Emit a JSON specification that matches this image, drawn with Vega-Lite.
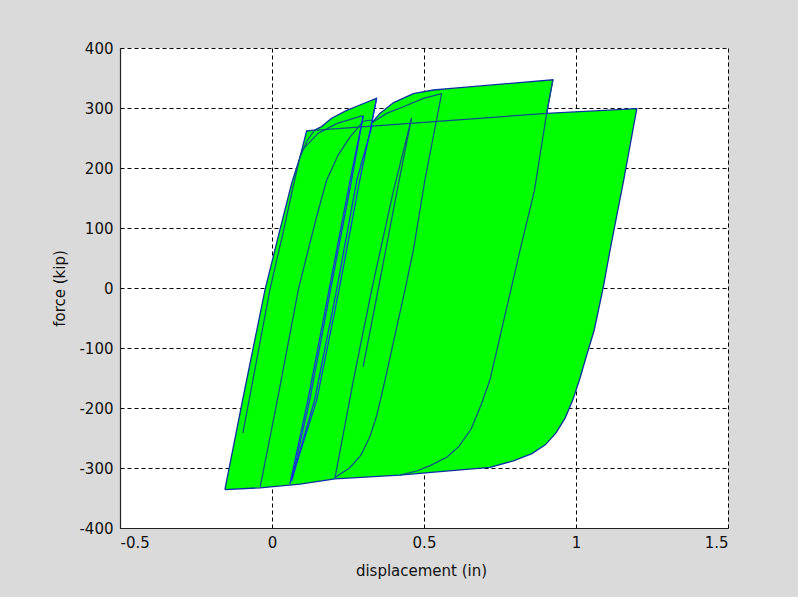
{
  "$schema": "https://vega.github.io/schema/vega-lite/v6.json",
  "width": 608,
  "height": 480,
  "autosize": {"type": "none"},
  "padding": {"left": 120, "top": 48, "right": 70, "bottom": 69},
  "background": "#dadada",
  "config": {
    "view": {"fill": "white", "stroke": null},
    "font": "DejaVu Sans",
    "axis": {
      "labelFont": "DejaVu Sans", "labelFontSize": 15, "labelColor": "#111",
      "titleFont": "DejaVu Sans", "titleFontSize": 15, "titleFontWeight": "normal", "titleColor": "#111",
      "grid": true, "gridColor": "black", "gridOpacity": 1, "gridDash": [4, 3], "gridWidth": 1,
      "domainColor": "#222", "domainWidth": 1.2, "ticks": false, "tickSize": 0
    }
  },
  "data": {"values": [
    {"seg":"outline","i":0,"x":-0.155,"y":-336},
    {"seg":"outline","i":1,"x":-0.094,"y":-180},
    {"seg":"outline","i":2,"x":-0.023,"y":-3},
    {"seg":"outline","i":3,"x":0.026,"y":97},
    {"seg":"outline","i":4,"x":0.065,"y":175},
    {"seg":"outline","i":5,"x":0.092,"y":218},
    {"seg":"outline","i":6,"x":0.114,"y":262},
    {"seg":"outline","i":7,"x":0.14,"y":263},
    {"seg":"outline","i":8,"x":0.163,"y":269},
    {"seg":"outline","i":9,"x":0.196,"y":283},
    {"seg":"outline","i":10,"x":0.246,"y":296},
    {"seg":"outline","i":11,"x":0.289,"y":305},
    {"seg":"outline","i":12,"x":0.344,"y":316},
    {"seg":"outline","i":13,"x":0.328,"y":275},
    {"seg":"outline","i":14,"x":0.355,"y":291},
    {"seg":"outline","i":15,"x":0.40,"y":309},
    {"seg":"outline","i":16,"x":0.465,"y":324},
    {"seg":"outline","i":17,"x":0.531,"y":330},
    {"seg":"outline","i":18,"x":0.60,"y":333},
    {"seg":"outline","i":19,"x":0.924,"y":347},
    {"seg":"outline","i":20,"x":0.9035,"y":291},
    {"seg":"outline","i":21,"x":1.2,"y":299},
    {"seg":"outline","i":22,"x":1.157,"y":180},
    {"seg":"outline","i":23,"x":1.112,"y":63},
    {"seg":"outline","i":24,"x":1.09,"y":2},
    {"seg":"outline","i":25,"x":1.06,"y":-70},
    {"seg":"outline","i":26,"x":1.035,"y":-112},
    {"seg":"outline","i":27,"x":1.012,"y":-152},
    {"seg":"outline","i":28,"x":0.99,"y":-186},
    {"seg":"outline","i":29,"x":0.965,"y":-216},
    {"seg":"outline","i":30,"x":0.935,"y":-241},
    {"seg":"outline","i":31,"x":0.9,"y":-261},
    {"seg":"outline","i":32,"x":0.855,"y":-276},
    {"seg":"outline","i":33,"x":0.794,"y":-288},
    {"seg":"outline","i":34,"x":0.717,"y":-299},
    {"seg":"outline","i":35,"x":0.553,"y":-306},
    {"seg":"outline","i":36,"x":0.42,"y":-312},
    {"seg":"outline","i":37,"x":0.207,"y":-318},
    {"seg":"outline","i":38,"x":0.092,"y":-327},
    {"seg":"outline","i":39,"x":-0.039,"y":-333},
    {"seg":"outline","i":40,"x":-0.155,"y":-336},

    {"seg":"top","i":0,"x":0.114,"y":262},
    {"seg":"top","i":1,"x":0.9035,"y":291},

    {"seg":"p5","i":0,"x":0.924,"y":347},
    {"seg":"p5","i":1,"x":0.9035,"y":291},
    {"seg":"p5","i":2,"x":0.863,"y":162},
    {"seg":"p5","i":3,"x":0.816,"y":63},
    {"seg":"p5","i":4,"x":0.717,"y":-153},
    {"seg":"p5","i":5,"x":0.69,"y":-192},
    {"seg":"p5","i":6,"x":0.655,"y":-235},
    {"seg":"p5","i":7,"x":0.615,"y":-264},
    {"seg":"p5","i":8,"x":0.575,"y":-282},
    {"seg":"p5","i":9,"x":0.52,"y":-296},
    {"seg":"p5","i":10,"x":0.476,"y":-305},
    {"seg":"p5","i":11,"x":0.42,"y":-312},

    {"seg":"p4","i":0,"x":0.558,"y":324},
    {"seg":"p4","i":1,"x":0.503,"y":180},
    {"seg":"p4","i":2,"x":0.465,"y":63},
    {"seg":"p4","i":3,"x":0.4375,"y":-3},
    {"seg":"p4","i":4,"x":0.372,"y":-153},
    {"seg":"p4","i":5,"x":0.345,"y":-212},
    {"seg":"p4","i":6,"x":0.322,"y":-248},
    {"seg":"p4","i":7,"x":0.292,"y":-279},
    {"seg":"p4","i":8,"x":0.255,"y":-300},
    {"seg":"p4","i":9,"x":0.207,"y":-316},

    {"seg":"n5","i":0,"x":0.207,"y":-317},
    {"seg":"n5","i":1,"x":0.268,"y":-153},
    {"seg":"n5","i":2,"x":0.328,"y":-3},
    {"seg":"n5","i":3,"x":0.40,"y":163},
    {"seg":"n5","i":4,"x":0.459,"y":283},

    {"seg":"p3","i":0,"x":0.459,"y":283},
    {"seg":"p3","i":1,"x":0.412,"y":163},
    {"seg":"p3","i":2,"x":0.349,"y":-3},
    {"seg":"p3","i":3,"x":0.30,"y":-131},

    {"seg":"bundleA","i":0,"x":0.059,"y":-326},
    {"seg":"bundleA","i":1,"x":0.118,"y":-187},
    {"seg":"bundleA","i":2,"x":0.185,"y":-10},
    {"seg":"bundleA","i":3,"x":0.257,"y":180},
    {"seg":"bundleA","i":4,"x":0.30,"y":287},

    {"seg":"bundleA2","i":0,"x":0.066,"y":-318},
    {"seg":"bundleA2","i":1,"x":0.124,"y":-187},
    {"seg":"bundleA2","i":2,"x":0.19,"y":-10},
    {"seg":"bundleA2","i":3,"x":0.262,"y":180},
    {"seg":"bundleA2","i":4,"x":0.30,"y":287},

    {"seg":"bundleB","i":0,"x":0.344,"y":316},
    {"seg":"bundleB","i":1,"x":0.328,"y":275},
    {"seg":"bundleB","i":2,"x":0.289,"y":180},
    {"seg":"bundleB","i":3,"x":0.218,"y":-10},
    {"seg":"bundleB","i":4,"x":0.147,"y":-187},
    {"seg":"bundleB","i":5,"x":0.10,"y":-262},
    {"seg":"bundleB","i":6,"x":0.076,"y":-300},
    {"seg":"bundleB","i":7,"x":0.059,"y":-326},

    {"seg":"bundleB2","i":0,"x":0.33,"y":272},
    {"seg":"bundleB2","i":1,"x":0.279,"y":180},
    {"seg":"bundleB2","i":2,"x":0.21,"y":-10},
    {"seg":"bundleB2","i":3,"x":0.14,"y":-187},
    {"seg":"bundleB2","i":4,"x":0.09,"y":-275},
    {"seg":"bundleB2","i":5,"x":0.065,"y":-322},

    {"seg":"p1curve","i":0,"x":0.092,"y":218},
    {"seg":"p1curve","i":1,"x":0.103,"y":232},
    {"seg":"p1curve","i":2,"x":0.152,"y":258},
    {"seg":"p1curve","i":3,"x":0.213,"y":274},
    {"seg":"p1curve","i":4,"x":0.289,"y":286},
    {"seg":"p1curve","i":5,"x":0.30,"y":287},

    {"seg":"bump","i":0,"x":0.092,"y":218},
    {"seg":"bump","i":1,"x":0.115,"y":245},
    {"seg":"bump","i":2,"x":0.14,"y":263},

    {"seg":"n3","i":0,"x":-0.039,"y":-332},
    {"seg":"n3","i":1,"x":0.021,"y":-178},
    {"seg":"n3","i":2,"x":0.0865,"y":-3},
    {"seg":"n3","i":3,"x":0.119,"y":63},
    {"seg":"n3","i":4,"x":0.15,"y":125},
    {"seg":"n3","i":5,"x":0.18,"y":180},
    {"seg":"n3","i":6,"x":0.218,"y":222},
    {"seg":"n3","i":7,"x":0.257,"y":252},
    {"seg":"n3","i":8,"x":0.30,"y":278},
    {"seg":"n3","i":9,"x":0.328,"y":280},

    {"seg":"n1","i":0,"x":-0.096,"y":-242},
    {"seg":"n1","i":1,"x":-0.072,"y":-178},
    {"seg":"n1","i":2,"x":-0.007,"y":-3},
    {"seg":"n1","i":3,"x":0.04,"y":100},
    {"seg":"n1","i":4,"x":0.07,"y":170},
    {"seg":"n1","i":5,"x":0.092,"y":218},

    {"seg":"p4curve","i":0,"x":0.33,"y":276},
    {"seg":"p4curve","i":1,"x":0.377,"y":291},
    {"seg":"p4curve","i":2,"x":0.432,"y":302},
    {"seg":"p4curve","i":3,"x":0.498,"y":316},
    {"seg":"p4curve","i":4,"x":0.558,"y":324}
  ]},
  "encoding": {
    "x": {"field": "x", "type": "quantitative",
      "scale": {"domain": [-0.5, 1.5], "nice": false, "zero": false},
      "axis": {"values": [-0.5, 0, 0.5, 1, 1.5], "labelExpr": "'' + datum.value",
        "labelPadding": 19, "labelBaseline": "alphabetic",
        "title": "displacement (in)", "titleX": 301, "titleY": 47, "titleBaseline": "alphabetic"}},
    "y": {"field": "y", "type": "quantitative",
      "scale": {"domain": [-400, 400], "nice": false},
      "axis": {"values": [-400, -300, -200, -100, 0, 100, 200, 300, 400], "labelExpr": "'' + datum.value",
        "labelPadding": 7,
        "title": "force (kip)", "titleX": -61, "titleY": 240, "titleAngle": -90, "titleBaseline": "middle", "titleAlign": "center"}},
    "order": {"field": "i", "type": "quantitative"},
    "detail": {"field": "seg", "type": "nominal"}
  },
  "layer": [
    {"transform": [{"filter": "datum.seg == 'outline'"}],
     "mark": {"type": "line", "fill": "#00ff00", "stroke": "#0a2fa0", "strokeWidth": 1.3, "clip": true}},
    {"transform": [{"filter": "datum.seg != 'outline' && indexof(datum.seg, 'bundle') < 0"}],
     "mark": {"type": "line", "stroke": "#0d4d88", "strokeWidth": 1.2, "clip": true}},
    {"transform": [{"filter": "indexof(datum.seg, 'bundle') >= 0"}],
     "mark": {"type": "line", "stroke": "#1530e0", "strokeWidth": 1.2, "clip": true}}
  ]
}
